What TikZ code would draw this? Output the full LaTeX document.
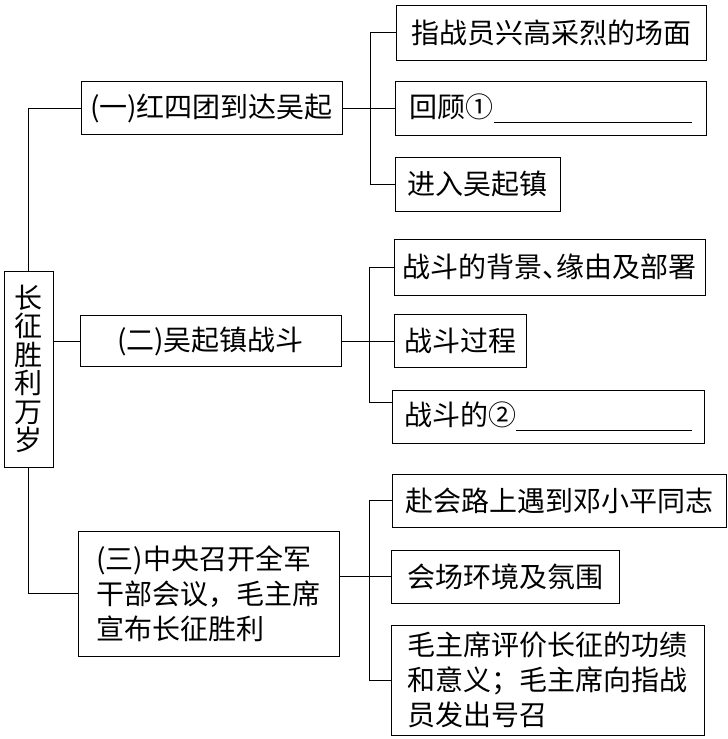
\documentclass[tikz,border=0pt]{standalone}
\usepackage{fontspec}
\newfontfamily\cjk{Noto Sans CJK SC}
\usetikzlibrary{calc}
\tikzset{
	box/.style={draw, line width=1pt, inner xsep=8pt, inner ysep=0pt, align=left, font=\cjk\fontsize{28}{35}\selectfont},
	conn/.style={line width=1pt},
}
\newcommand\blank[1]{\rule[-6pt]{#1}{0.9pt}}

\begin{document}
\begin{tikzpicture}[x=1pt,y=-1pt]
			%%%%% START %%%%%
			\useasboundingbox (0,0) rectangle (728,739);
			
			\node[box, align=center, inner xsep=0pt, minimum width=49pt, minimum height=196pt, font=\cjk\fontsize{28}{28.5}\selectfont] (changzheng) at (28.5,369) {长\\征\\胜\\利\\万\\岁};
			
			\node[box, minimum width=261pt, minimum height=53pt] (hong) at (211.5,108) {(一)红四团到达吴起};
			\node[box, minimum width=261pt, minimum height=51pt] (wuqi) at (210.5,341) {(二)吴起镇战斗};
			\node[box, minimum width=261pt, minimum height=125pt] (huiyi) at (208.5,593.5) {(三)中央召开全军\\干部会议，毛主席\\宣布长征胜利};
			
			\node[box, minimum width=310pt, minimum height=55pt] (xingfen) at (551,32.5) {指战员兴高采烈的场面};
			\node[box, minimum width=311pt, minimum height=54pt] (huigu) at (550.5,108.5) {回顾①\blank{198pt}};
			\node[box, minimum width=165pt, minimum height=54pt] (jinru) at (477.5,184) {进入吴起镇};
			
			\node[box, minimum width=311pt, minimum height=56pt] (beijing) at (549.5,267) {战斗的背景\makebox[14pt][l]{、}缘由及部署};
			\node[box, minimum width=132pt, minimum height=53pt] (guocheng) at (460,341) {战斗过程};
			\node[box, minimum width=312pt, minimum height=53pt] (yiyi) at (548,416.5) {战斗的②\blank{176pt}};
			
			\node[box, minimum width=334pt, minimum height=53pt] (fuhui) at (559,500.5) {赴会路上遇到邓小平同志};
			\node[box, minimum width=228pt, minimum height=53pt] (huichang) at (505,576.5) {会场环境及氛围};
			\node[box, minimum width=313pt, minimum height=110pt] (haozhao) at (547.5,680) {毛主席评价长征的功绩\\和意义；毛主席向指战\\员发出号召};
			
			\coordinate (busA) at (370.5,0);
			\coordinate (busB) at (369,0);
			\coordinate (busC) at (369,0);
			\coordinate (yiyiin) at ([yshift=14pt]yiyi.west);
			
			% trunk
			\draw[conn] (changzheng.north) |- (hong.west);
			\draw[conn] (changzheng.east |- wuqi.west) -- (wuqi.west);
			\draw[conn] (changzheng.south) |- (huiyi.west);
			
			% branches
			\draw[conn] (hong.east) -- (hong.east -| huigu.west);
			\draw[conn] (xingfen.west) -| (busA |- jinru.west) -- (jinru.west);
			
			\draw[conn] (wuqi.east) -- (wuqi.east -| guocheng.west);
			\draw[conn] (beijing.west) -| (busB |- yiyiin) -- (yiyiin);
			
			\draw[conn] (huiyi.east |- huichang.west) -- (huichang.west);
			\draw[conn] (fuhui.west) -| (busC |- haozhao.west) -- (haozhao.west);
			
			%%%%% END %%%%%
\end{tikzpicture}
\end{document}
